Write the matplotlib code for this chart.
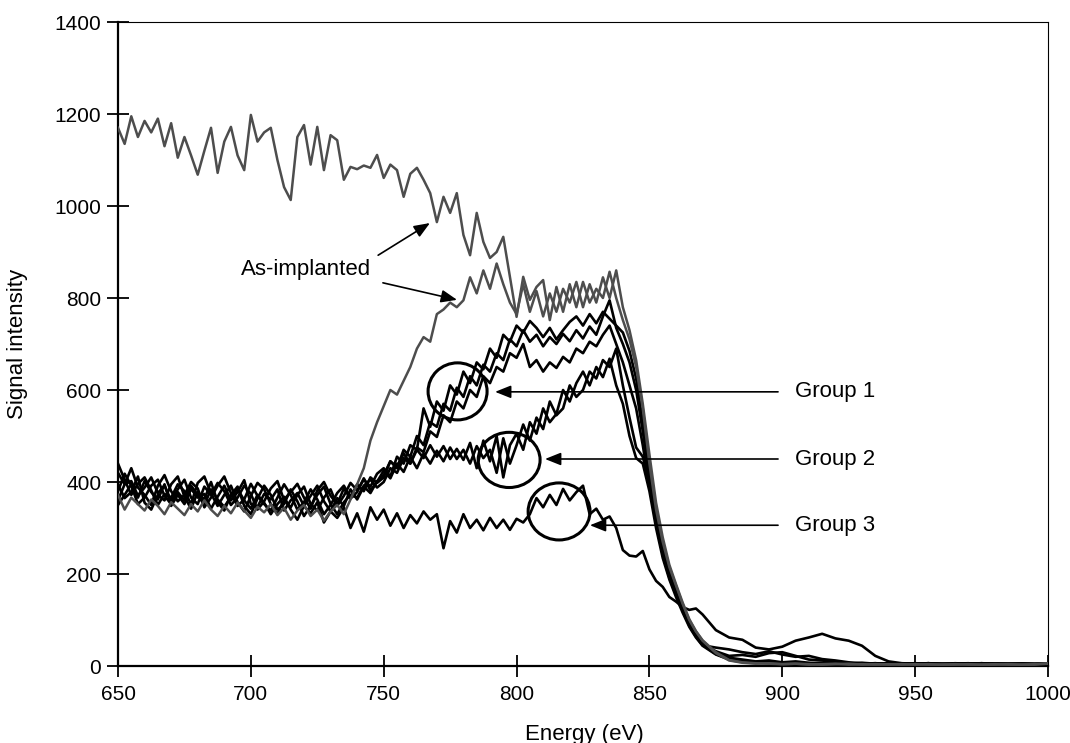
import numpy as np
import matplotlib
matplotlib.use("Agg")
import matplotlib.pyplot as plt
from matplotlib.patches import Ellipse

plt.rcParams['font.family'] = ['Liberation Sans', 'DejaVu Sans']

# energy channels (eV): fine part up to 870, coarse tail after
energy_main = np.arange(650, 870.1, 2.5)
energy_tail = np.arange(875, 1000.1, 5)

# as-implanted, upper spectrum
as_impl_1 = [1170, 1135, 1195, 1150, 1185, 1160, 1190, 1130,
             1180, 1105, 1150, 1110, 1068, 1120, 1170, 1072,
             1140, 1172, 1110, 1078, 1198, 1140, 1160, 1170,
             1100, 1041, 1013, 1150, 1176, 1090, 1172, 1078,
             1154, 1143, 1057, 1085, 1080, 1088, 1083, 1111,
             1061, 1090, 1078, 1020, 1070, 1083, 1057, 1028,
             965, 1020, 985, 1028, 937, 893, 985, 922,
             887, 900, 933, 846, 759, 846, 796, 824,
             839, 752, 824, 770, 830, 780, 835, 790,
             820, 800, 857, 800, 752, 710, 650, 560,
             440, 340, 270, 215, 175, 135, 100, 75, 55]
as_impl_1_tail = [28, 12, 7, 5, 6, 4, 5, 3, 4, 5, 3, 4, 3, 4, 3, 4, 3, 3, 4, 3, 3, 4, 3, 3, 4, 6]

# as-implanted, lower spectrum
as_impl_2 = [372, 340, 366, 352, 338, 362, 348, 330,
             356, 342, 328, 352, 336, 360, 340, 326,
             348, 332, 355, 338, 322, 346, 334, 352,
             328, 344, 318, 338, 350, 326, 340, 316,
             336, 350, 330, 362, 395, 430, 490, 530,
             565, 600, 590, 620, 650, 690, 715, 705,
             765, 775, 790, 780, 795, 845, 810, 860,
             820, 875, 830, 790, 765, 830, 770, 815,
             760, 810, 770, 820, 790, 835, 780, 830,
             790, 845, 800, 860, 780, 730, 665, 570,
             460, 355, 280, 220, 178, 138, 102, 76, 56]
as_impl_2_tail = [30, 13, 8, 6, 5, 4, 5, 4, 3, 4, 5, 3, 4, 3, 4, 3, 4, 3, 3, 4, 3, 3, 4, 3, 3, 5]

# group 1 (three spectra)
g1a = [420, 395, 402, 370, 388, 410, 376, 392,
       360, 384, 405, 366, 352, 390, 372, 398,
       380, 350, 366, 392, 374, 340, 358, 386,
       402, 360, 345, 372, 390, 352, 338, 366,
       384, 348, 370, 398, 382, 405, 390, 418,
       430, 412, 455, 440, 480, 470, 560, 520,
       575, 555, 610, 590, 640, 615, 660, 645,
       690, 670, 720, 705, 740, 725, 750, 735,
       715, 735, 710, 730, 748, 760, 740, 765,
       745, 770, 755, 740, 725, 685, 625, 530,
       425, 335, 262, 208, 168, 130, 96, 70, 50]
g1a_tail = [30, 18, 14, 10, 12, 8, 10, 7, 6, 8, 5, 7, 5, 6, 4, 6, 5, 4, 6, 5, 4, 5, 4, 5, 4, 6]

g1b = [360, 395, 430, 388, 372, 350, 392, 415,
       380, 358, 372, 400, 386, 345, 366, 392,
       412, 376, 348, 362, 396, 370, 352, 338,
       366, 395, 372, 340, 356, 384, 362, 330,
       350, 376, 392, 366, 395, 380, 410, 398,
       410, 445, 430, 470, 455, 500, 480, 530,
       520, 570, 555, 605, 585, 630, 610, 655,
       640, 680, 665, 710, 695, 730, 705, 720,
       695, 715, 700, 722, 706, 730, 712, 738,
       720, 760, 795, 735, 700, 660, 600, 510,
       410, 325, 255, 200, 162, 125, 92, 68, 48]
g1b_tail = [32, 22, 24, 20, 28, 30, 22, 14, 12, 8, 6, 5, 6, 5, 4, 5, 6, 4, 5, 4, 5, 4, 5, 4, 4, 5]

g1c = [395, 365, 378, 412, 355, 340, 372, 360,
       395, 412, 368, 342, 378, 362, 400, 356,
       338, 372, 390, 348, 330, 364, 392, 372,
       340, 352, 384, 358, 326, 348, 372, 390,
       352, 330, 356, 372, 366, 392, 405, 388,
       400, 430, 420, 452, 440, 475, 465, 510,
       498, 545, 530, 575, 560, 600, 585, 630,
       615, 650, 640, 680, 670, 700, 650, 665,
       640, 660, 648, 672, 660, 690, 680, 705,
       695, 720, 740, 700, 660, 610, 560, 480,
       390, 315, 248, 195, 158, 122, 90, 66, 46]
g1c_tail = [26, 15, 10, 8, 6, 8, 5, 6, 4, 5, 6, 4, 5, 4, 5, 6, 4, 5, 4, 5, 6, 4, 5, 4, 5, 4]

# group 2 (two spectra)
g2a = [440, 405, 372, 396, 410, 382, 350, 374,
       366, 395, 380, 352, 398, 412, 375, 348,
       372, 392, 356, 336, 370, 398, 384, 352,
       330, 362, 378, 396, 366, 342, 382, 400,
       370, 352, 386, 364, 378, 408, 382, 400,
       425, 408, 440, 422, 455, 430, 462, 440,
       468, 445, 475, 450, 470, 440, 478, 452,
       470, 420, 495, 440, 480, 525, 490, 540,
       515, 575, 545, 560, 610, 585, 600, 640,
       625, 665, 650, 690, 610, 540, 475, 455,
       400, 310, 242, 192, 155, 120, 88, 64, 45]
g2a_tail = [40, 36, 30, 26, 32, 25, 20, 22, 15, 12, 8, 6, 5, 6, 5, 4, 6, 5, 4, 5, 4, 5, 4, 5, 4, 6]

g2b = [350, 372, 395, 366, 402, 378, 362, 395,
       348, 372, 352, 385, 366, 374, 342, 368,
       392, 360, 378, 404, 352, 346, 374, 362,
       384, 338, 360, 376, 348, 370, 392, 358,
       336, 365, 348, 384, 362, 390, 376, 402,
       415, 445, 432, 462, 440, 470, 452, 480,
       455, 478, 450, 472, 448, 485, 430, 490,
       445, 500, 410, 480, 505, 470, 530, 505,
       560, 530, 548, 600, 575, 615, 640, 610,
       650, 628, 668, 610, 570, 500, 452, 440,
       380, 300, 235, 188, 150, 116, 85, 62, 44]
g2b_tail = [25, 14, 9, 7, 10, 6, 8, 5, 7, 6, 4, 5, 6, 4, 5, 4, 5, 4, 5, 6, 4, 5, 4, 5, 4, 5]

# group 3 (one spectrum)
g3 = [380, 418, 392, 352, 366, 392, 405, 370,
      352, 378, 360, 392, 372, 350, 384, 362,
      346, 368, 385, 360, 342, 372, 355, 330,
      352, 368, 340, 318, 348, 332, 356, 312,
      336, 322, 345, 300, 332, 292, 345, 318,
      340, 305, 332, 300, 328, 310, 336, 318,
      330, 256, 315, 290, 330, 300, 318, 295,
      322, 300, 318, 296, 320, 312, 330, 365,
      345, 372, 350, 385, 360, 378, 392, 330,
      342, 318, 325, 300, 252, 240, 238, 250,
      210, 185, 172, 150, 140, 128, 122, 125, 112]
g3_tail = [78, 62, 57, 40, 36, 42, 55, 62, 70, 60, 55, 44, 22, 10, 6, 5, 6, 4, 5, 4, 6, 5, 4, 5, 4, 6]

black_series = [(g1a, g1a_tail), (g1b, g1b_tail), (g1c, g1c_tail),
                (g2a, g2a_tail), (g2b, g2b_tail), (g3, g3_tail)]
gray_series = [(as_impl_1, as_impl_1_tail), (as_impl_2, as_impl_2_tail)]

# circles round each group: (centre E, centre signal, width eV, height)
group_rings = [(777.8, 597, 22.2, 124), (797.2, 448, 23.3, 120), (816.0, 336, 23.3, 124)]
group_labels = ['Group 1', 'Group 2', 'Group 3']
group_tips = [(791.9, 596), (810.7, 450), (827.6, 306)]

energy = np.concatenate([energy_main, energy_tail])

fig = plt.figure(figsize=(10.7, 7.43), dpi=100)
ax = fig.add_axes([118 / 1070, 1 - 666 / 743, 930 / 1070, 644 / 743])

for main, tail in black_series:
    ax.plot(energy, np.concatenate([main, tail]), color='black', lw=1.9, zorder=3)
for main, tail in gray_series:
    ax.plot(energy, np.concatenate([main, tail]), color='0.3', lw=1.8, zorder=4)

for (cx, cy, w, h) in group_rings:
    ax.add_patch(Ellipse((cx, cy), w, h, fill=False, ec='black', lw=2.2, zorder=5))

arrow = dict(arrowstyle='-|>,head_length=0.8,head_width=0.32', color='black',
             lw=1.2, shrinkA=0, shrinkB=0, mutation_scale=12)
for lab, (tx, ty) in zip(group_labels, group_tips):
    ax.annotate('', xy=(tx, ty), xytext=(898.4, ty), arrowprops=arrow, zorder=6)
    ax.text(904.8, ty, lab, fontsize=16, ha='left', va='center')

ax.text(720.8, 861, 'As-implanted', fontsize=16, ha='center', va='center')
ax.annotate('', xy=(767.4, 963), xytext=(747.9, 893), arrowprops=arrow)
ax.annotate('', xy=(777.6, 796), xytext=(749.7, 833), arrowprops=arrow)

ax.set_xlim(650, 1000)
ax.set_ylim(0, 1400)
ax.set_xticks(np.arange(650, 1001, 50))
ax.set_yticks(np.arange(0, 1401, 200))
ax.tick_params(direction='inout', length=16, width=1.3, labelsize=15)
ax.tick_params(axis='x', pad=6)
ax.tick_params(axis='y', pad=4)
for s in ['left', 'bottom']:
    ax.spines[s].set_linewidth(1.6)
for s in ['top', 'right']:
    ax.spines[s].set_linewidth(0.8)

fig.text(18 / 1070, 1 - 344 / 743, 'Signal intensity', rotation=90,
         ha='center', va='center', fontsize=16)
fig.text(584 / 1070, 1 - 724 / 743, 'Energy (eV)', ha='center', va='top', fontsize=16)

fig.savefig('out.png', dpi=100)
